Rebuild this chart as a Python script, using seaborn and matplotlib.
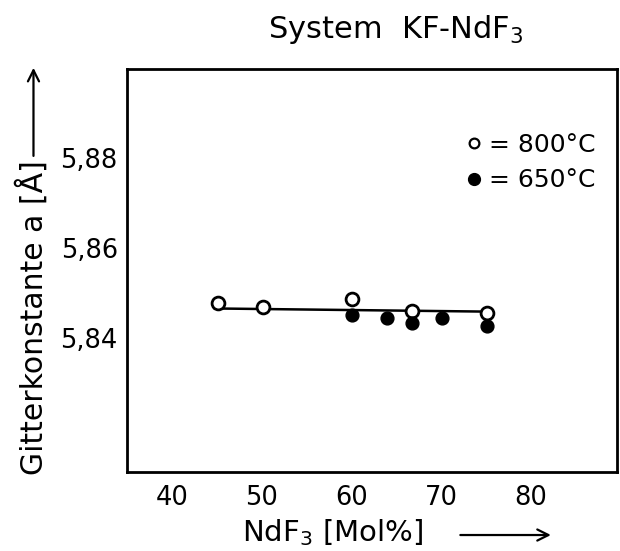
import matplotlib
matplotlib.use("Agg")
import matplotlib.pyplot as plt
import seaborn as sns
import pandas as pd
from matplotlib.lines import Line2D
from matplotlib.ticker import FuncFormatter

# ---- data ----
x_800 = [45.1, 50.1, 60.0, 66.7, 75.1]
y_800 = [5.8478, 5.8470, 5.8488, 5.8461, 5.8456]
x_650 = [60.0, 64.0, 66.7, 70.1, 75.1]
y_650 = [5.8451, 5.8445, 5.8434, 5.8445, 5.8428]
line_x = [44.7, 75.1]
line_y = [5.8466, 5.8459]
x_ticks = [40, 50, 60, 70, 80]
y_ticks = [5.84, 5.86, 5.88]
labels = ["= 800°C", "= 650°C"]

df = pd.DataFrame({
    "x": x_800 + x_650,
    "y": y_800 + y_650,
    "T": [labels[0]] * len(x_800) + [labels[1]] * len(x_650),
})
df_line = pd.DataFrame({"x": line_x, "y": line_y})

sns.set_theme(style="white")
plt.rcParams["font.family"] = ["DejaVu Sans"]
plt.rcParams["text.color"] = "black"

fig = plt.figure(figsize=(6.2, 5.51), dpi=100)
ax = fig.add_axes([0.2056, 0.1428, 0.7895, 0.7320])

sns.lineplot(data=df_line, x="x", y="y", ax=ax, color="black", lw=1.8)
sns.scatterplot(data=df[df["T"] == labels[0]], x="x", y="y", ax=ax, s=85,
                marker="o", facecolor="white", edgecolor="black", linewidth=2.0, zorder=3)
sns.scatterplot(data=df[df["T"] == labels[1]], x="x", y="y", ax=ax, s=85,
                marker="o", color="black", edgecolor="black", linewidth=1, zorder=3)

ax.set_xlim(35.0, 89.6)
ax.set_ylim(5.8102, 5.8998)
ax.set_xticks(x_ticks)
ax.set_yticks(y_ticks)
ax.yaxis.set_major_formatter(FuncFormatter(lambda v, p: f"{v:.2f}".replace(".", ",")))
ax.tick_params(direction="in", length=6.5, width=1.5, colors="black",
               labelsize=18.5, pad=7)
ax.tick_params(axis="x", pad=9)
for s in ax.spines.values():
    s.set_color("black")
    s.set_linewidth(2)
ax.set_xlabel("")
ax.set_ylabel("")

# legend
handles = [
    Line2D([], [], marker="o", ls="", markersize=7, markerfacecolor="white",
           markeredgecolor="black", markeredgewidth=1.6),
    Line2D([], [], marker="o", ls="", markersize=8.5, markerfacecolor="black",
           markeredgecolor="black"),
]
leg = ax.legend(handles, labels, loc="upper left", bbox_to_anchor=(0.672, 0.866),
                frameon=False, fontsize=18, handlelength=0.6, handletextpad=0.3,
                labelspacing=0.45, borderaxespad=0)
for t in leg.get_texts():
    t.set_color("black")

# axis labels with arrows
fig.text(0.052, 0.138, "Gitterkonstante a [Å]", rotation=90, fontsize=21.5,
         ha="center", va="bottom", color="black")
ax.annotate("", xy=(0.054, 0.882), xytext=(0.054, 0.712), xycoords="figure fraction",
            arrowprops=dict(arrowstyle="->", lw=1.6, color="black", mutation_scale=20))
fig.text(0.39, 0.018, "NdF$_3$ [Mol%]", fontsize=21, ha="left", va="baseline",
         color="black")
ax.annotate("", xy=(0.893, 0.029), xytext=(0.738, 0.029), xycoords="figure fraction",
            arrowprops=dict(arrowstyle="->", lw=1.6, color="black", mutation_scale=20))

fig.text(0.638, 0.931, "System  KF-NdF$_3$", fontsize=22, ha="center", va="baseline",
         color="black")

fig.savefig("out.png", dpi=100)
